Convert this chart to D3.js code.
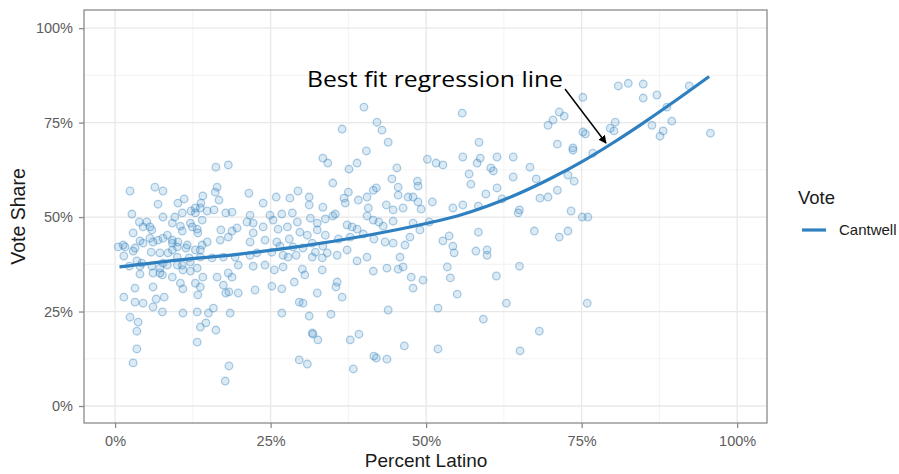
<!DOCTYPE html>
<html>
<head>
<meta charset="utf-8">
<script src="https://cdn.jsdelivr.net/npm/d3@7"></script>
<style>
  body { margin: 0; background: #fff; }
  svg { display: block; font-family: "Liberation Sans", Arial, sans-serif; }
</style>
</head>
<body>
<div id="chart"></div>
<script>
// tick values (percent)
const xTicks = [0, 25, 50, 75, 100];
const yTicks = [0, 25, 50, 75, 100];
const xMinor = [12.5, 37.5, 62.5, 87.5];
const yMinor = [12.5, 37.5, 62.5, 87.5];

// [percent latino, vote share] per precinct
const precincts = [
  // 0 - 20% latino
  [16.2,63.2],[18.2,63.8],[2.4,56.9],[6.4,57.9],[7.7,56.9],[6.9,53.4],[16.4,57.9],[16.1,56.6],[16.7,54.5],
  [14.1,55.6],[13.8,53.7],[11.1,54.8],[10.1,53.7],[2.7,50.8],[7.7,50.0],[9.6,50.0],[10.8,51.1],[12.2,51.6],
  [12.9,52.4],[14.8,51.6],[15.9,51.9],[17.8,51.1],[18.8,51.3],[3.9,48.7],[5.1,48.7],[5.6,47.4],[4.5,47.4],
  [2.9,45.8],[10.5,47.6],[10.8,46.3],[12.4,47.4],[13.2,46.8],[0.5,42.1],[1.6,42.1],[2.9,41.0],[1.4,39.7],
  [4.0,43.7],[5.6,44.4],[6.9,43.9],[8.4,45.2],[9.2,43.9],[10.0,42.1],[11.4,41.8],[13.7,41.3],[14.8,43.4],
  [16.9,43.9],[18.2,44.7],[19.6,47.1],[21.2,48.7],[17.0,46.6],[18.8,46.3],[5.8,40.7],[7.2,40.5],[9.2,41.3],
  [10.0,39.4],[11.9,39.2],[13.7,39.4],[15.6,39.2],[17.4,39.4],[19.3,39.4],[3.5,38.4],[4.0,37.0],[2.3,37.0],
  [6.1,35.2],[7.2,36.5],[8.4,37.3],[9.2,34.1],[7.6,34.7],[10.8,37.3],[12.1,35.7],[13.2,36.5],[14.1,34.1],
  [16.4,34.1],[18.2,35.2],[18.8,34.1],[19.8,37.3],[4.0,34.9],[3.2,31.2],[6.1,31.5],[10.5,32.5],[10.9,31.0],
  [12.9,32.5],[13.7,31.5],[13.3,29.4],[17.4,32.0],[17.8,29.9],[19.8,29.9],[18.3,30.2],[1.4,28.8],[3.2,27.5],
  [4.5,27.2],[6.6,28.3],[7.9,28.8],[6.1,26.2],[7.6,24.9],[10.9,24.6],[13.2,24.9],[15.0,24.6],[15.8,25.9],
  [18.5,24.6],[2.4,23.5],[3.7,22.2],[3.5,19.8],[3.5,15.1],[2.9,11.4],[13.7,20.9],[14.6,22.0],[16.2,20.1],
  [13.2,16.9],[18.3,10.6],[17.7,6.6],[5.9,46.6],[9.2,48.4],[12.1,48.4],[12.9,51.1],[13.7,52.4],[14.0,49.2],
  [13.3,45.8],[1.3,42.6],[3.2,41.8],[4.5,43.1],[6.1,43.4],[7.7,44.4],[9.2,43.1],[10.1,43.4],[11.6,42.6],
  [12.9,41.3],[14.0,42.6],[8.5,40.5],[7.7,37.8],[5.9,37.0],[4.3,37.8],[10.0,37.3],[10.9,36.0],[12.1,38.1],
  [7.2,35.2],[21.5,56.3],
  // 20 - 46% latino
  [43.9,69.8],[33.4,65.6],[34.2,64.3],[40.4,67.5],[38.9,64.3],[37.6,62.7],[45.3,63.0],[35.0,59.0],[41.5,57.1],
  [42.0,57.7],[44.5,60.1],[45.5,57.9],[29.4,56.9],[23.8,53.7],[25.9,55.3],[28.1,55.0],[31.2,55.3],[31.2,53.2],
  [33.4,52.6],[36.8,55.0],[37.5,56.6],[37.0,53.7],[39.1,54.5],[40.5,55.3],[40.7,52.4],[43.6,53.2],[44.7,51.9],
  [45.5,55.8],[21.7,50.5],[24.9,50.5],[26.8,50.8],[28.5,51.1],[25.4,49.2],[29.3,48.7],[31.4,49.7],[32.5,48.4],
  [33.8,49.5],[35.0,50.3],[35.4,50.8],[37.3,47.9],[38.1,47.4],[38.9,46.8],[40.5,50.3],[41.5,49.2],[42.4,48.7],
  [43.1,47.6],[44.7,48.9],[22.2,48.4],[23.8,47.4],[26.2,46.8],[27.7,47.4],[29.7,46.0],[30.9,45.2],[32.5,46.6],
  [33.8,45.2],[35.9,44.2],[37.8,44.7],[39.9,45.5],[41.6,44.2],[43.4,43.4],[44.7,43.1],[22.2,45.8],[21.7,43.4],
  [24.1,43.9],[26.0,43.4],[26.5,42.3],[28.0,44.2],[28.6,42.1],[30.2,41.8],[31.7,43.1],[32.2,40.7],[33.4,42.3],
  [34.1,40.5],[37.3,41.3],[35.7,39.9],[21.7,39.9],[22.8,40.5],[25.2,40.7],[27.0,39.9],[27.8,39.4],[29.1,39.9],
  [31.7,39.4],[33.3,39.2],[22.2,37.0],[24.1,37.3],[25.6,36.0],[27.0,36.8],[30.1,36.2],[30.5,34.7],[33.3,36.0],
  [38.9,38.4],[40.5,39.4],[41.5,35.7],[43.7,36.5],[45.5,36.2],[22.5,30.7],[25.2,31.7],[26.8,31.0],[28.8,32.8],
  [32.5,29.9],[35.7,32.8],[35.5,31.5],[36.5,28.8],[29.6,27.5],[30.2,27.2],[31.2,23.8],[26.8,24.6],[34.7,24.3],
  [43.9,25.4],[31.7,19.3],[31.8,19.0],[32.6,17.5],[37.8,17.5],[39.2,19.0],[29.6,12.2],[30.9,11.1],[38.3,9.8],
  [41.6,13.2],[42.0,12.7],[43.7,12.4],[40.0,79.1],[36.5,73.3],[42.1,75.1],[42.9,73.0],
  // 46 - 72% latino
  [71.1,69.3],[58.5,69.8],[50.2,65.3],[51.6,64.3],[52.7,63.8],[55.9,65.9],[58.2,64.3],[58.7,65.6],[61.4,65.9],
  [64.0,65.9],[66.7,63.2],[60.4,63.0],[60.8,62.2],[56.9,61.4],[57.2,58.7],[64.0,60.6],[67.7,60.1],[48.6,59.5],
  [48.7,58.2],[47.1,55.3],[47.9,55.3],[48.7,54.0],[51.0,54.0],[46.3,52.4],[49.2,52.1],[54.3,52.4],[55.9,53.2],
  [58.4,52.9],[59.6,56.1],[61.4,57.7],[62.2,54.8],[71.1,57.1],[68.3,55.0],[69.6,55.3],[65.0,51.9],[64.8,51.1],
  [47.9,48.4],[50.5,48.7],[47.4,44.7],[49.0,46.6],[46.6,42.6],[45.8,39.4],[46.3,36.8],[52.7,43.7],[53.7,45.0],
  [54.3,42.3],[54.5,40.5],[58.4,46.0],[58.0,41.0],[59.8,41.3],[59.8,39.9],[67.4,46.3],[71.4,44.7],[53.4,36.8],
  [53.9,33.9],[47.6,34.1],[49.5,33.3],[47.9,31.2],[55.0,29.6],[61.3,34.4],[65.0,37.0],[51.9,25.9],[62.9,27.2],
  [59.2,23.0],[68.2,19.8],[46.5,15.9],[51.9,15.1],[65.1,14.6],[55.8,77.5],
  // 69 - 96% latino
  [80.9,84.7],[82.5,85.4],[84.9,85.2],[92.3,84.7],[75.2,81.7],[84.9,81.5],[87.1,82.3],[69.6,74.3],[70.4,75.7],
  [71.4,77.8],[72.2,76.7],[88.7,79.1],[89.5,75.4],[86.3,74.3],[88.1,72.8],[87.6,71.4],[95.7,72.2],[80.4,75.1],
  [79.6,73.5],[80.2,72.8],[75.2,72.5],[75.6,72.0],[73.6,68.3],[73.6,67.7],[76.8,66.9],[72.8,61.1],[73.8,59.5],
  [73.3,51.6],[75.1,50.0],[76.0,50.0],[72.8,46.3],[75.9,27.2]
];

// fitted regression curve
const fitLatino = [0.7, 10, 20, 30, 40, 50, 55, 60, 65, 70, 75, 80, 85, 90, 95.5];
const fitShare  = [36.8, 38.6, 40.2, 42.3, 45.0, 48.3, 50.3, 53.0, 56.3, 60.2, 64.6, 69.6, 75.0, 80.7, 87.2];

const legendTitle = "Vote";
const seriesName = "Cantwell";
const note = "Best fit regression line";

const width = 899, height = 474;
const panel = {left: 84, right: 767, top: 10, bottom: 423};
const blue = "#2f80c0";

const svg = d3.select("#chart").append("svg")
  .attr("width", width)
  .attr("height", height);

const x = d3.scaleLinear().domain([-5, 104.8]).range([panel.left, panel.right]);
const y = d3.scaleLinear().domain([-4.5, 104.8]).range([panel.bottom, panel.top]);

// grid
const grid = svg.append("g");
grid.selectAll(".vminor").data(xMinor).join("line")
  .attr("x1", d => x(d)).attr("x2", d => x(d))
  .attr("y1", panel.top).attr("y2", panel.bottom)
  .attr("stroke", "#f0f0f0").attr("stroke-width", 0.8);
grid.selectAll(".hminor").data(yMinor).join("line")
  .attr("y1", d => y(d)).attr("y2", d => y(d))
  .attr("x1", panel.left).attr("x2", panel.right)
  .attr("stroke", "#f0f0f0").attr("stroke-width", 0.8);
grid.selectAll(".vmajor").data(xTicks).join("line")
  .attr("x1", d => x(d)).attr("x2", d => x(d))
  .attr("y1", panel.top).attr("y2", panel.bottom)
  .attr("stroke", "#e8e8e8").attr("stroke-width", 1.3);
grid.selectAll(".hmajor").data(yTicks).join("line")
  .attr("y1", d => y(d)).attr("y2", d => y(d))
  .attr("x1", panel.left).attr("x2", panel.right)
  .attr("stroke", "#e8e8e8").attr("stroke-width", 1.3);

// points
svg.append("g").selectAll("circle").data(precincts).join("circle")
  .attr("cx", d => x(d[0]))
  .attr("cy", d => y(d[1]))
  .attr("r", 3.8)
  .attr("fill", blue).attr("fill-opacity", 0.17)
  .attr("stroke", blue).attr("stroke-opacity", 0.38).attr("stroke-width", 1.3);

// fitted line
const line = d3.line()
  .x((d, i) => x(fitLatino[i]))
  .y(d => y(d))
  .curve(d3.curveMonotoneX);

svg.append("path")
  .datum(fitShare)
  .attr("fill", "none")
  .attr("stroke", blue)
  .attr("stroke-width", 3.2)
  .attr("stroke-linecap", "butt")
  .attr("d", line);

// panel border
svg.append("rect")
  .attr("x", panel.left).attr("y", panel.top)
  .attr("width", panel.right - panel.left).attr("height", panel.bottom - panel.top)
  .attr("fill", "none").attr("stroke", "#8a8a8a").attr("stroke-width", 1.3);

// axes
const xAxis = svg.append("g")
  .attr("transform", `translate(0,${panel.bottom})`)
  .call(d3.axisBottom(x).tickValues(xTicks).tickFormat(d => d + "%").tickSize(5).tickPadding(8));
const yAxis = svg.append("g")
  .attr("transform", `translate(${panel.left},0)`)
  .call(d3.axisLeft(y).tickValues(yTicks).tickFormat(d => d + "%").tickSize(5).tickPadding(6));

[xAxis, yAxis].forEach(g => {
  g.select(".domain").remove();
  g.selectAll("line").attr("stroke", "#8a8a8a").attr("stroke-width", 1.3);
  g.selectAll("text")
    .attr("fill", "#5c5c5c")
    .style("font-size", "14.5px")
    .style("font-family", '"Liberation Sans", Arial, sans-serif');
});

// axis titles
svg.append("text")
  .attr("x", x(50)).attr("y", 467)
  .attr("text-anchor", "middle")
  .attr("fill", "#1a1a1a")
  .style("font-size", "19px")
  .text("Percent Latino");

svg.append("text")
  .attr("transform", `translate(25,${(panel.top + panel.bottom) / 2}) rotate(-90)`)
  .attr("text-anchor", "middle")
  .attr("fill", "#1a1a1a")
  .style("font-size", "19.5px")
  .text("Vote Share");

// legend
svg.append("text")
  .attr("x", 798).attr("y", 204)
  .attr("fill", "#1a1a1a")
  .style("font-size", "18.5px")
  .text(legendTitle);
svg.append("line")
  .attr("x1", 802).attr("x2", 826)
  .attr("y1", 230).attr("y2", 230)
  .attr("stroke", blue).attr("stroke-width", 3.2);
svg.append("text")
  .attr("x", 839).attr("y", 235)
  .attr("fill", "#1a1a1a")
  .style("font-size", "15px")
  .text(seriesName);

// annotation
svg.append("defs").append("marker")
  .attr("id", "arrowhead")
  .attr("viewBox", "0 0 10 10")
  .attr("refX", 9).attr("refY", 5)
  .attr("markerWidth", 8).attr("markerHeight", 8)
  .attr("markerUnits", "userSpaceOnUse")
  .attr("orient", "auto")
  .append("path")
  .attr("d", "M0,0 L10,5 L0,10 Z")
  .attr("fill", "#000");

svg.append("line")
  .attr("x1", 565).attr("y1", 89)
  .attr("x2", 606).attr("y2", 143)
  .attr("stroke", "#000").attr("stroke-width", 1.5)
  .attr("marker-end", "url(#arrowhead)");

svg.append("text")
  .attr("x", 307).attr("y", 87)
  .attr("textLength", 256)
  .attr("lengthAdjust", "spacingAndGlyphs")
  .attr("fill", "#000")
  .style("font-family", '"Open Sans", "DejaVu Sans", sans-serif')
  .style("font-size", "21px")
  .text(note);
</script>
</body>
</html>
